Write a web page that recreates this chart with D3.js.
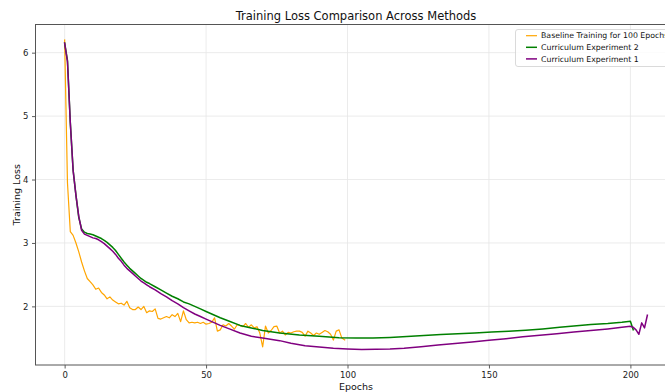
<!DOCTYPE html>
<html>
<head>
<meta charset="utf-8">
<script src="https://cdn.jsdelivr.net/npm/d3@7"></script>
<style>
  html, body { margin: 0; padding: 0; background: #fff; overflow: hidden; }
  svg { display: block; font-family: "DejaVu Sans", sans-serif; }
</style>
</head>
<body>
<svg id="chart" width="665" height="392"></svg>
<script>
// Baseline run: one loss value per epoch, epochs 0..99
const baselineLoss = [
  6.20, 3.95, 3.18, 3.12, 3.00, 2.86, 2.70, 2.56, 2.44, 2.39,
  2.34, 2.27, 2.29, 2.22, 2.18, 2.12, 2.15, 2.10, 2.07, 2.04,
  2.05, 2.02, 2.08, 1.98, 1.95, 1.95, 1.99, 1.95, 2.00, 1.90,
  1.93, 1.92, 1.96, 1.81, 1.80, 1.82, 1.84, 1.82, 1.87, 1.84,
  1.89, 1.76, 1.93, 1.79, 1.74, 1.75, 1.74, 1.75, 1.73, 1.75,
  1.72, 1.73, 1.75, 1.82, 1.61, 1.63, 1.71, 1.69, 1.73, 1.69,
  1.64, 1.71, 1.70, 1.68, 1.73, 1.67, 1.71, 1.66, 1.68, 1.58,
  1.36, 1.69, 1.58, 1.62, 1.68, 1.69, 1.58, 1.61, 1.55, 1.59,
  1.58, 1.60, 1.61, 1.61, 1.59, 1.53, 1.61, 1.58, 1.54, 1.58,
  1.56, 1.59, 1.62, 1.60, 1.56, 1.47, 1.61, 1.63, 1.50, 1.47
];

// Curriculum Experiment 2
const curriculum2Epochs = [
  0, 1, 2, 3, 4, 5, 6, 7, 8, 9, 10, 11, 12, 13, 14, 15, 16, 17, 18, 19,
  20, 21, 22, 23, 24, 25, 26, 27, 28, 29, 30, 32, 34, 36, 38, 40, 42, 44, 46, 48,
  50, 52, 55, 58, 62, 66, 70, 76, 83, 90, 97, 103, 109, 115, 121, 127, 133, 139, 145, 151,
  157, 163, 169, 175, 180, 186, 192, 197, 200, 201
];
const curriculum2Loss = [
  6.15, 5.88, 4.90, 4.15, 3.75, 3.40, 3.22, 3.17, 3.15, 3.14, 3.13, 3.11, 3.09, 3.07, 3.04, 3.01, 2.97, 2.93, 2.88, 2.82,
  2.76, 2.70, 2.65, 2.60, 2.56, 2.52, 2.48, 2.44, 2.41, 2.38, 2.36, 2.31, 2.26, 2.21, 2.16, 2.12, 2.07, 2.04, 2.00, 1.96,
  1.92, 1.88, 1.82, 1.77, 1.70, 1.66, 1.62, 1.58, 1.55, 1.53, 1.505, 1.50, 1.50, 1.51, 1.525, 1.54, 1.555, 1.57, 1.58, 1.595,
  1.61, 1.625, 1.645, 1.67, 1.69, 1.715, 1.73, 1.75, 1.765, 1.63
];

// Curriculum Experiment 1
const curriculum1Epochs = [
  0, 1, 2, 3, 4, 5, 6, 7, 8, 9, 10, 11, 12, 13, 14, 15, 16, 17, 18, 19,
  20, 21, 22, 23, 24, 25, 26, 27, 28, 29, 30, 32, 34, 36, 38, 40, 42, 44, 46, 48,
  50, 52, 55, 58, 62, 66, 70, 76, 80, 85, 90, 95, 100, 105, 110, 115, 120, 126, 132, 138,
  144, 150, 156, 162, 168, 174, 180, 186, 192, 197, 200, 201, 202, 203, 204, 205, 206
];
const curriculum1Loss = [
  6.15, 5.86, 4.90, 4.14, 3.75, 3.42, 3.20, 3.14, 3.12, 3.10, 3.08, 3.07, 3.05, 3.02, 2.99, 2.95, 2.91, 2.87, 2.82, 2.76,
  2.71, 2.65, 2.60, 2.56, 2.52, 2.48, 2.44, 2.40, 2.37, 2.34, 2.31, 2.26, 2.20, 2.15, 2.09, 2.04, 1.98, 1.93, 1.88, 1.84,
  1.80, 1.76, 1.70, 1.65, 1.58, 1.53, 1.50, 1.46, 1.42, 1.38, 1.36, 1.34, 1.33, 1.32, 1.325, 1.33, 1.34, 1.365, 1.39, 1.415,
  1.44, 1.465, 1.49, 1.52, 1.545, 1.57, 1.595, 1.62, 1.645, 1.67, 1.685, 1.67, 1.63, 1.56, 1.74, 1.66, 1.86
];

const xTicks = [0, 50, 100, 150, 200];
const yTicks = [2, 3, 4, 5, 6];
const seriesNames = ["Baseline Training for 100 Epochs", "Curriculum Experiment 2", "Curriculum Experiment 1"];
const seriesColors = ["orange", "green", "purple"];

const series = [
  { name: seriesNames[0], color: seriesColors[0], width: 1.2,
    points: baselineLoss.map((v, i) => [i, v]) },
  { name: seriesNames[1], color: seriesColors[1], width: 1.5,
    points: curriculum2Epochs.map((e, i) => [e, curriculum2Loss[i]]) },
  { name: seriesNames[2], color: seriesColors[2], width: 1.5,
    points: curriculum1Epochs.map((e, i) => [e, curriculum1Loss[i]]) }
];

// Plot area (right edge runs past the visible canvas)
const plot = { left: 35.5, top: 24.5, right: 676.5, bottom: 365 };

// Autoscale with 5% padding on both axes
const allPts = series.flatMap(s => s.points);
const [xMin, xMax] = d3.extent(allPts, d => d[0]);
const [yMin, yMax] = d3.extent(allPts, d => d[1]);
const xPad = (xMax - xMin) * 0.05, yPad = (yMax - yMin) * 0.05;

const x = d3.scaleLinear().domain([xMin - xPad, xMax + xPad]).range([plot.left, plot.right]);
const y = d3.scaleLinear().domain([yMin - yPad, yMax + yPad]).range([plot.bottom, plot.top]);

const svg = d3.select("#chart");

// Grid
const grid = svg.append("g").attr("stroke", "#e6e6e6").attr("stroke-width", 0.8);
grid.selectAll("line.gx").data(xTicks).join("line")
  .attr("x1", d => x(d)).attr("x2", d => x(d))
  .attr("y1", plot.top).attr("y2", plot.bottom);
grid.selectAll("line.gy").data(yTicks).join("line")
  .attr("x1", plot.left).attr("x2", plot.right)
  .attr("y1", d => y(d)).attr("y2", d => y(d));

// Lines
const line = d3.line().x(d => x(d[0])).y(d => y(d[1]));
svg.append("g").selectAll("path").data(series).join("path")
  .attr("d", d => line(d.points))
  .attr("fill", "none")
  .attr("stroke", d => d.color)
  .attr("stroke-width", d => d.width)
  .attr("stroke-linejoin", "round")
  .attr("stroke-linecap", "square");

// Axes
const xAxis = d3.axisBottom(x).tickValues(xTicks).tickSize(3.5).tickPadding(3.5).tickFormat(d3.format("d"));
const yAxis = d3.axisLeft(y).tickValues(yTicks).tickSize(3.5).tickPadding(3.5).tickFormat(d3.format("d"));

const gx = svg.append("g").attr("transform", `translate(0,${plot.bottom})`).call(xAxis);
const gy = svg.append("g").attr("transform", `translate(${plot.left},0)`).call(yAxis);
[gx, gy].forEach(g => {
  g.select(".domain").remove();
  g.selectAll(".tick line").attr("stroke", "#333").attr("stroke-width", 0.8);
  g.selectAll(".tick text").attr("fill", "#222").attr("font-size", 8.5)
    .attr("font-family", "DejaVu Sans, sans-serif");
});

// Frame
svg.append("rect")
  .attr("x", plot.left).attr("y", plot.top)
  .attr("width", plot.right - plot.left).attr("height", plot.bottom - plot.top)
  .attr("fill", "none").attr("stroke", "#555").attr("stroke-width", 1);

// Title and axis labels
svg.append("text")
  .attr("x", (plot.left + plot.right) / 2).attr("y", 20)
  .attr("text-anchor", "middle").attr("font-size", 11.5).attr("fill", "#111")
  .text("Training Loss Comparison Across Methods");
svg.append("text")
  .attr("x", (plot.left + plot.right) / 2).attr("y", 390)
  .attr("text-anchor", "middle").attr("font-size", 9.5).attr("fill", "#111")
  .text("Epochs");
svg.append("text")
  .attr("transform", `translate(20,${(plot.top + plot.bottom) / 2}) rotate(-90)`)
  .attr("text-anchor", "middle").attr("font-size", 9.5).attr("fill", "#111")
  .text("Training Loss");

// Legend
const legend = svg.append("g").attr("transform", "translate(515.5,29.5)");
legend.append("rect")
  .attr("width", 155).attr("height", 37).attr("rx", 2.5)
  .attr("fill", "white").attr("fill-opacity", 0.8)
  .attr("stroke", "#d0d0d0").attr("stroke-width", 0.8);
const items = legend.selectAll("g.item").data(series).join("g")
  .attr("transform", (d, i) => `translate(0,${6.2 + i * 11.6})`);
items.append("line")
  .attr("x1", 10.5).attr("x2", 21.5)
  .attr("stroke", d => d.color).attr("stroke-width", d => d.width);
items.append("text")
  .attr("x", 25.5).attr("dy", "0.35em")
  .attr("font-size", 7.8).attr("fill", "#111")
  .text(d => d.name);
</script>
</body>
</html>
